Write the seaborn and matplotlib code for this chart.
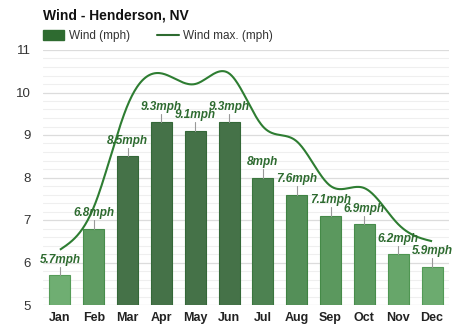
import numpy as np
import pandas as pd
import matplotlib
matplotlib.use("Agg")
import matplotlib.pyplot as plt
import seaborn as sns
from matplotlib.colors import LinearSegmentedColormap, to_hex
from matplotlib.patches import Patch
from matplotlib.lines import Line2D
from matplotlib.ticker import MultipleLocator

months = ["Jan", "Feb", "Mar", "Apr", "May", "Jun", "Jul", "Aug", "Sep", "Oct", "Nov", "Dec"]
wind = [5.7, 6.8, 8.5, 9.3, 9.1, 9.3, 8.0, 7.6, 7.1, 6.9, 6.2, 5.9]
wind_max = [6.3, 7.3, 9.7, 10.45, 10.2, 10.45, 9.2, 8.85, 7.8, 7.75, 6.9, 6.5]
labels = ["5.7mph", "6.8mph", "8.5mph", "9.3mph", "9.1mph", "9.3mph", "8mph",
          "7.6mph", "7.1mph", "6.9mph", "6.2mph", "5.9mph"]
yticks = [5, 6, 7, 8, 9, 10, 11]

sns.set_theme(style="white")
plt.rcParams["font.family"] = ["Liberation Sans", "DejaVu Sans"]

fig = plt.figure(figsize=(4.74, 3.31), dpi=100)
ax = fig.add_axes([43 / 474, 1 - 305 / 331, 406 / 474, 255 / 331])

cmap = LinearSegmentedColormap.from_list("g", ["#64b868", "#57a95b", "#4a9a4f", "#3d7a42"])
def color_for(v):
    t = np.clip((v - 5.7) / (8.5 - 5.7), 0, 1)
    return to_hex(cmap(t))

palette = [color_for(v) for v in wind]
edges = [to_hex(tuple(c * 0.85 for c in matplotlib.colors.to_rgb(p))) for p in palette]

df = pd.DataFrame({"month": months, "wind": wind})
sns.barplot(data=df, x="month", y="wind", hue="month", palette=palette, legend=False,
            width=0.62, ax=ax, zorder=3, linewidth=0.8, edgecolor="#3a7a3e")
for patch, ec in zip(ax.patches, edges):
    patch.set_edgecolor(ec)

# natural cubic spline for smooth max line
x = np.arange(len(wind_max), dtype=float)
y = np.array(wind_max)
n = len(x)
h = np.diff(x)
A = np.zeros((n, n)); b = np.zeros(n)
A[0, 0] = 1; A[-1, -1] = 1
for i in range(1, n - 1):
    A[i, i - 1] = h[i - 1]; A[i, i] = 2 * (h[i - 1] + h[i]); A[i, i + 1] = h[i]
    b[i] = 3 * ((y[i + 1] - y[i]) / h[i] - (y[i] - y[i - 1]) / h[i - 1])
c = np.linalg.solve(A, b)
xs, ys = [], []
for i in range(n - 1):
    bi = (y[i + 1] - y[i]) / h[i] - h[i] * (2 * c[i] + c[i + 1]) / 3
    di = (c[i + 1] - c[i]) / (3 * h[i])
    t = np.linspace(0, h[i], 40)
    xs.extend(x[i] + t)
    ys.extend(y[i] + bi * t + c[i] * t ** 2 + di * t ** 3)
ax.plot(xs, ys, color="#2e7d32", lw=1.5, zorder=5, solid_capstyle="butt")

for i, (v, lab) in enumerate(zip(wind, labels)):
    ax.plot([i, i], [v, v + 0.2], color="#999999", lw=0.8, zorder=4)
    ax.text(i, v + 0.22, lab, ha="center", va="bottom", fontsize=8.5, fontweight="bold",
            fontstyle="italic", color="#2e6b30", zorder=6)

ax.set_xlim(-0.5, 11.5)
ax.set_ylim(5, 11)
ax.set_yticks(yticks)
ax.yaxis.set_minor_locator(MultipleLocator(0.2))
ax.grid(axis="y", which="major", color="#dcdcdc", lw=0.9, zorder=0)
ax.grid(axis="y", which="minor", color="#efefef", lw=0.8, zorder=0)
ax.set_axisbelow(True)
for s in ax.spines.values():
    s.set_visible(False)
ax.set_xlabel("")
ax.set_ylabel("")
ax.tick_params(axis="y", which="both", length=0, pad=9, labelsize=9.5, labelcolor="#333333")
ax.tick_params(axis="x", length=0, pad=5, labelsize=9, labelcolor="#222222")
for t in ax.get_xticklabels():
    t.set_fontweight("bold")

fig.text(43 / 474, 1 - 16 / 331, "Wind - Henderson, NV", fontsize=10, fontweight="bold",
         color="#111111", ha="left", va="center")

handles = [Patch(facecolor="#2e6b30", edgecolor="#2e6b30"),
           Line2D([0], [0], color="#2e6b30", lw=1.5)]
fig.legend(handles, ["Wind (mph)", "Wind max. (mph)"], loc="center left",
           bbox_to_anchor=(43 / 474, 1 - 36 / 331), ncol=2, frameon=False,
           fontsize=8.5, handlelength=1.8, handleheight=0.85, columnspacing=2.3,
           handletextpad=0.4, borderpad=0, borderaxespad=0, labelcolor="#333333")

fig.savefig("out.png", dpi=100, facecolor="white")
